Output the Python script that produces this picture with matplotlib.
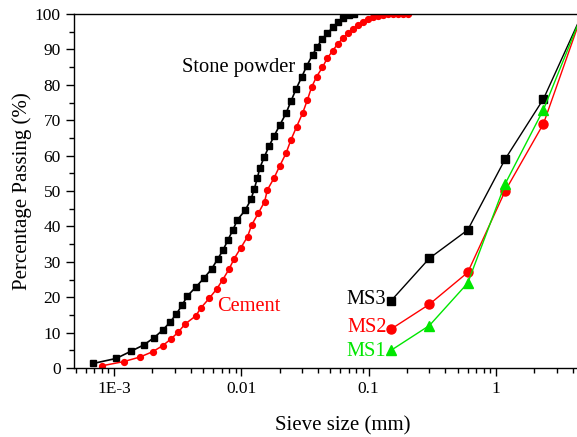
import numpy as np
import matplotlib.pyplot as plt
from matplotlib.ticker import FixedLocator, LogLocator, NullFormatter, MultipleLocator

plt.rcParams['font.family'] = ['Liberation Serif', 'DejaVu Serif']

# Polvo de piedra (mm, % pasa)
stone_d = [6.9e-4, 1.04e-3, 1.37e-3, 1.71e-3, 2.07e-3, 2.41e-3, 2.75e-3, 3.09e-3,
           3.42e-3, 3.76e-3, 4.43e-3, 5.12e-3, 5.85e-3, 6.52e-3, 7.21e-3, 7.85e-3,
           8.59e-3, 9.29e-3, 1.074e-2, 1.189e-2, 1.265e-2, 1.334e-2, 1.40e-2, 1.514e-2,
           1.648e-2, 1.811e-2, 2.01e-2, 2.24e-2, 2.45e-2, 2.69e-2, 2.99e-2, 3.25e-2,
           3.63e-2, 3.95e-2, 4.33e-2, 4.75e-2, 5.25e-2, 5.71e-2, 6.31e-2, 7.0e-2, 7.67e-2]
stone_p = [1.3, 2.7, 4.8, 6.5, 8.6, 10.7, 12.9, 15.3, 17.7, 20.3, 23.0, 25.5, 28.0,
           30.8, 33.4, 36.2, 39.0, 41.8, 44.6, 47.6, 50.6, 53.6, 56.6, 59.6, 62.6,
           65.6, 68.7, 71.9, 75.3, 78.8, 82.3, 85.2, 88.5, 90.8, 93.0, 94.6, 96.3,
           97.7, 98.8, 99.6, 100.0]

# Cemento
cem_d = [7.98e-4, 1.19e-3, 1.60e-3, 2.01e-3, 2.41e-3, 2.80e-3, 3.19e-3, 3.61e-3,
         4.38e-3, 4.82e-3, 5.60e-3, 6.40e-3, 7.16e-3, 8.0e-3, 8.79e-3, 9.93e-3,
         1.119e-2, 1.205e-2, 1.358e-2, 1.524e-2, 1.60e-2, 1.803e-2, 2.01e-2, 2.24e-2,
         2.45e-2, 2.72e-2, 3.03e-2, 3.30e-2, 3.56e-2, 3.90e-2, 4.33e-2, 4.73e-2,
         5.21e-2, 5.70e-2, 6.25e-2, 6.92e-2, 7.57e-2, 8.28e-2, 9.08e-2, 9.93e-2,
         0.1086, 0.1189, 0.1303, 0.1426, 0.156, 0.1706, 0.187, 0.2046]
cem_p = [0.6, 1.8, 3.1, 4.6, 6.3, 8.2, 10.1, 12.4, 14.7, 17.0, 19.7, 22.3, 25.0,
         27.9, 30.9, 34.0, 37.1, 40.4, 43.7, 47.0, 50.3, 53.6, 57.2, 60.6, 64.4,
         68.2, 72.0, 75.7, 79.3, 82.3, 84.9, 87.5, 89.6, 91.5, 93.1, 94.6, 95.8,
         96.9, 97.8, 98.5, 99.1, 99.4, 99.7, 99.9, 100.0, 100.0, 100.0, 100.0]

# Arenas manufacturadas
sieve = [0.15, 0.3, 0.6, 1.18, 2.36, 4.75]
ms1 = [5, 12, 24, 52, 73, 100]
ms2 = [11, 18, 27, 50, 69, 100]
ms3 = [19, 31, 39, 59, 76, 100]

xmin, xmax = 4.85e-4, 8.0
fig = plt.figure(figsize=(5.77, 4.37), dpi=100)
# eje derecho fuera de la figura (recortado como en el original)
left = 74 / 577
right_px = 496 + 127.3 * np.log10(xmax)
ax = fig.add_axes([left, (437 - 368) / 437, (right_px - 74) / 577, (368 - 14) / 437])

ax.plot(stone_d, stone_p, color='k', marker='s', markersize=4.2, linewidth=1.2)
ax.plot(cem_d, cem_p, color='r', marker='o', markersize=4.2, linewidth=1.1)
ax.plot(sieve, ms3, color='k', marker='s', markersize=6, linewidth=1)
ax.plot(sieve, ms2, color='r', marker='o', markersize=6.5, linewidth=1)
ax.plot(sieve, ms1, color='#00e600', marker='^', markersize=6.5, linewidth=1)

ax.set_xscale('log')
ax.set_xlim(xmin, xmax)
ax.set_ylim(0, 100)

ax.xaxis.set_major_locator(FixedLocator([1e-3, 1e-2, 1e-1, 1]))
ax.set_xticklabels(['1E-3', '0.01', '0.1', '1'])
ax.xaxis.set_minor_locator(LogLocator(base=10, subs=np.arange(2, 10)))
ax.xaxis.set_minor_formatter(NullFormatter())
ax.yaxis.set_major_locator(MultipleLocator(10))
ax.yaxis.set_minor_locator(MultipleLocator(5))

ax.tick_params(which='major', direction='out', length=6, width=1, labelsize=12.5)
ax.tick_params(which='minor', direction='out', length=3.5, width=1)
ax.tick_params(top=False, right=False)
for s in ax.spines.values():
    s.set_linewidth(1)

ax.set_xlabel('Sieve size (mm)', fontsize=15, labelpad=14)
ax.set_ylabel('Percentage Passing (%)', fontsize=15, labelpad=2)

ax.text(0.0265, 85, 'Stone powder', fontsize=14.8, ha='right', va='center')
ax.text(6.4e-3, 17.3, 'Cement', fontsize=14.7, color='r', ha='left', va='center')
ax.text(0.138, 19.3, 'MS3', fontsize=14.7, color='k', ha='right', va='center')
ax.text(0.138, 11.3, 'MS2', fontsize=14.7, color='r', ha='right', va='center')
ax.text(0.138, 4.6, 'MS1', fontsize=14.7, color='#00e600', ha='right', va='center')

fig.savefig('out.png', dpi=100)
